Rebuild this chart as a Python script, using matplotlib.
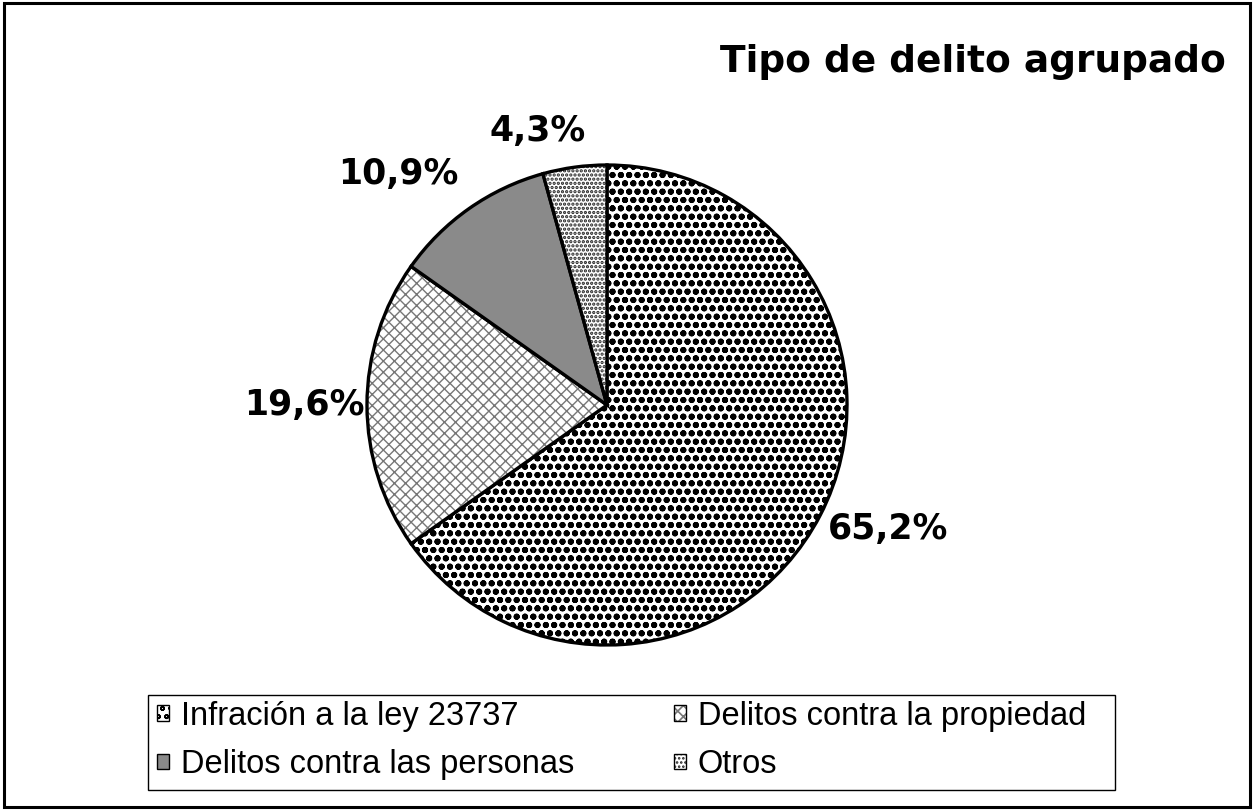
import numpy as np
import matplotlib
matplotlib.use("Agg")
import matplotlib.pyplot as plt
from matplotlib.patches import Rectangle

plt.rcParams['font.family'] = ['Liberation Sans', 'DejaVu Sans']
plt.rcParams['hatch.linewidth'] = 1.2

title = "Tipo de delito agrupado"
categories = ["Infración a la ley 23737", "Delitos contra la propiedad",
              "Delitos contra las personas", "Otros"]
values = [65.2, 19.6, 10.9, 4.3]

faces = ["white", "white", "#8a8a8a", "white"]
hatches = ["oo", "xxx", "", "...."]
hatch_colors = ["black", "#777777", "black", "#222222"]
hatch_lws = [2.0, 1.0, 1.0, 1.6]
# label placement (distance in radii, angular nudge in degrees)
label_dist = [1.28, 1.26, 1.30, 1.18]
label_nudge = [3.5, 0.0, 7.0, 6.5]

fig = plt.figure(figsize=(12.55, 8.1), dpi=100)
fig.patches.append(Rectangle((0.003, 0.004), 0.993, 0.992, transform=fig.transFigure,
                             fill=False, edgecolor="black", linewidth=2.2))

ax = fig.add_axes([(607 - 240) / 1255, (810 - 645) / 810, 480 / 1255, 480 / 810])
wedges, texts, autotexts = ax.pie(
    values, startangle=90, counterclock=False, radius=1,
    autopct=lambda p: f"{p:.1f}".replace(".", ",") + "%",
    pctdistance=1.26,
    wedgeprops=dict(linewidth=2.4, edgecolor="black"),
    textprops=dict(fontsize=25, fontweight="bold", family="DejaVu Sans"))
for w, fc, h, hc, hl in zip(wedges, faces, hatches, hatch_colors, hatch_lws):
    w.set_facecolor(fc)
    w.set_hatch(h)
    w._hatch_color = matplotlib.colors.to_rgba(hc)
    if hasattr(w, "set_hatch_linewidth"):
        w.set_hatch_linewidth(hl)
for w, t, d, nd in zip(wedges, autotexts, label_dist, label_nudge):
    ang = np.deg2rad((w.theta1 + w.theta2) / 2 + nd)
    t.set_position((d * np.cos(ang), d * np.sin(ang)))
ax.set_xlim(-1, 1)
ax.set_ylim(-1, 1)
ax.set_aspect("equal")
ax.axis("off")

fig.text(1226 / 1255, 1 - 62 / 810, title, ha="right", va="center",
         fontsize=27, fontweight="bold", family="DejaVu Sans")

# legend box
fig.patches.append(Rectangle((148 / 1255, 20 / 810), 967 / 1255, 95 / 810,
                             transform=fig.transFigure, fill=False,
                             edgecolor="black", linewidth=1.0))
order = [0, 2, 1, 3]
leg = fig.legend([wedges[i] for i in order], [categories[i] for i in order],
                 ncol=2, loc="center left",
                 bbox_to_anchor=(147 / 1255, 69.5 / 810),
                 fontsize=23.5, frameon=False,
                 handlelength=0.36, handleheight=0.36,
                 handletextpad=0.37, labelspacing=0.54, columnspacing=3.07,
                 borderaxespad=0.0, borderpad=0.3)
for h in leg.legend_handles:
    h.set_linewidth(1.0)

fig.savefig("out.png", dpi=100)
